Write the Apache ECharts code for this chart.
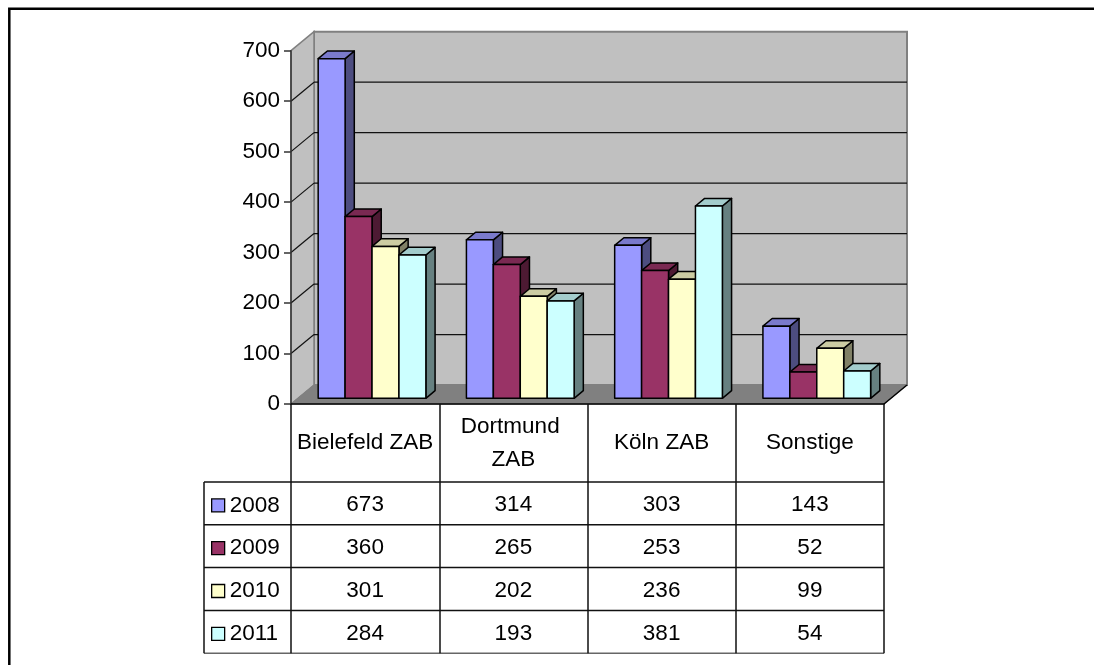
<!DOCTYPE html>
<html>
<head>
<meta charset="utf-8">
<title>ZAB 2008–2011</title>
<script src="https://cdn.jsdelivr.net/npm/echarts@6/dist/echarts.min.js"></script>
<style>
  html, body { margin: 0; padding: 0; background: #ffffff; }
  #chart { width: 1094px; height: 665px; }
</style>
</head>
<body>
<div id="chart"></div>
<script>
// ---- data ----
const CATEGORIES = ['Bielefeld ZAB', 'Dortmund ZAB', 'Köln ZAB', 'Sonstige'];
const YEARS = ['2008', '2009', '2010', '2011'];
const V2008 = [673, 314, 303, 143];
const V2009 = [360, 265, 253, 52];
const V2010 = [301, 202, 236, 99];
const V2011 = [284, 193, 381, 54];
const Y_MIN = 0;
const Y_MAX = 700;
const Y_STEP = 100;

const SERIES_VALUES = [V2008, V2009, V2010, V2011];

// ---- look ----
const FONT = '"Liberation Sans", Arial, Helvetica, sans-serif';
const FONT_SIZE = 22.5;
const FRONT_COLORS = ['#9999FF', '#993366', '#FFFFCC', '#CCFFFF'];

// oblique depth of the plot box (pixels from front plane to back wall)
const DX = 23;
const DY = -19;
// the bars occupy this slice of the depth
const BAR_FRONT = 0.3;
const BAR_BACK = 0.7;
// share of a category band covered by its group of bars
const GROUP_FRAC = 0.7265;

// data table below the plot
const ROW_TOP = 482;
const ROW_H = 42.8;
const KEY_COL_W = 87;

function shade(hex, f) {
  const n = parseInt(hex.slice(1), 16);
  const r = Math.round(((n >> 16) & 255) * f);
  const g = Math.round(((n >> 8) & 255) * f);
  const b = Math.round((n & 255) * f);
  return 'rgb(' + r + ',' + g + ',' + b + ')';
}

// back wall, side wall, floor and wall gridlines
function renderWalls(params, api) {
  const cs = params.coordSys;
  const x = cs.x, y = cs.y, w = cs.width, h = cs.height;
  const children = [];
  children.push({
    type: 'rect',
    shape: { x: x + DX, y: y + DY, width: w, height: h },
    style: { fill: '#C0C0C0', stroke: '#808080', lineWidth: 2 }
  });
  children.push({
    type: 'polygon',
    shape: { points: [[x, y], [x + DX, y + DY], [x + DX, y + h + DY], [x, y + h]] },
    style: { fill: '#C0C0C0', stroke: '#808080', lineWidth: 1.5 }
  });
  children.push({
    type: 'polygon',
    shape: { points: [[x, y + h], [x + DX, y + h + DY], [x + w + DX, y + h + DY], [x + w, y + h]] },
    style: { fill: '#808080', stroke: '#808080', lineWidth: 1 }
  });
  children.push({
    type: 'line',
    shape: { x1: x + w, y1: y + h, x2: x + w + DX, y2: y + h + DY },
    style: { stroke: '#000', lineWidth: 1.5 }
  });
  for (let v = Y_MIN + Y_STEP; v < Y_MAX; v += Y_STEP) {
    const yy = api.coord([0, v])[1];
    children.push({
      type: 'line',
      shape: { x1: x + DX, y1: yy + DY, x2: x + w + DX, y2: yy + DY },
      style: { stroke: '#111', lineWidth: 1.2 }
    });
    children.push({
      type: 'line',
      shape: { x1: x, y1: yy, x2: x + DX, y2: yy + DY },
      style: { stroke: '#111', lineWidth: 1.2 }
    });
  }
  return { type: 'group', children: children };
}

// one 3D column: side, top, then front face
function barRenderer(si) {
  const front = FRONT_COLORS[si];
  const topC = shade(front, 0.8);
  const sideC = shade(front, 0.5);
  return function (params, api) {
    const j = api.value(0);
    const v = api.value(1);
    const pTop = api.coord([j, v]);
    const pBase = api.coord([j, 0]);
    const band = api.size([1, 0])[0];
    const groupW = band * GROUP_FRAC;
    const bw = groupW / YEARS.length;
    const x0 = pTop[0] - groupW / 2 + si * bw + DX * BAR_FRONT;
    const yt = pTop[1] + DY * BAR_FRONT;
    const yb = pBase[1] + DY * BAR_FRONT;
    const dx = DX * (BAR_BACK - BAR_FRONT);
    const dy = DY * (BAR_BACK - BAR_FRONT);
    const st = { stroke: '#000', lineWidth: 1.5, lineJoin: 'round' };
    return {
      type: 'group',
      children: [
        {
          type: 'polygon',
          shape: { points: [[x0 + bw, yt], [x0 + bw + dx, yt + dy], [x0 + bw + dx, yb + dy], [x0 + bw, yb]] },
          style: Object.assign({ fill: sideC }, st)
        },
        {
          type: 'polygon',
          shape: { points: [[x0, yt], [x0 + bw, yt], [x0 + bw + dx, yt + dy], [x0 + dx, yt + dy]] },
          style: Object.assign({ fill: topC }, st)
        },
        {
          type: 'rect',
          shape: { x: x0, y: yt, width: bw, height: yb - yt },
          style: Object.assign({ fill: front }, st)
        }
      ]
    };
  };
}

// horizontal rules of the data table and its key column edge
function renderTableRules(params, api) {
  const cs = params.coordSys;
  const left = cs.x - KEY_COL_W;
  const right = cs.x + cs.width;
  const children = [];
  for (let k = 0; k <= YEARS.length; k++) {
    const yy = ROW_TOP + k * ROW_H;
    children.push({
      type: 'line',
      shape: { x1: left, y1: yy, x2: right, y2: yy },
      style: { stroke: k === YEARS.length ? '#666' : '#111', lineWidth: 1.5 }
    });
  }
  children.push({
    type: 'line',
    shape: { x1: left, y1: ROW_TOP, x2: left, y2: ROW_TOP + YEARS.length * ROW_H },
    style: { stroke: '#111', lineWidth: 1.5 }
  });
  return { type: 'group', children: children };
}

// value cells of the data table
function renderTableCell(params, api) {
  const j = api.value(0);
  const row = api.value(1);
  const val = api.value(2);
  const x = api.coord([j, 0])[0];
  const y = ROW_TOP + (row + 0.5) * ROW_H + 1.5;
  return {
    type: 'text',
    x: x,
    y: y,
    style: {
      text: String(val),
      fill: '#000',
      fontSize: FONT_SIZE,
      fontFamily: FONT,
      align: 'center',
      verticalAlign: 'middle'
    }
  };
}

const tableCells = [];
SERIES_VALUES.forEach(function (vals, i) {
  vals.forEach(function (v, j) { tableCells.push([j, i, v]); });
});

const series = [
  {
    type: 'custom',
    name: 'walls',
    renderItem: renderWalls,
    data: [[0, 0]],
    encode: { x: 0, y: 1 },
    z: 1,
    silent: true
  },
  {
    type: 'custom',
    name: 'tableRules',
    renderItem: renderTableRules,
    data: [[0, 0]],
    encode: { x: 0, y: 1 },
    z: 1,
    silent: true
  },
  {
    type: 'custom',
    name: 'tableCells',
    renderItem: renderTableCell,
    data: tableCells,
    encode: { x: 0, y: 1 },
    z: 3,
    silent: true
  }
];

YEARS.forEach(function (year, i) {
  series.push({
    type: 'custom',
    name: year,
    renderItem: barRenderer(i),
    itemStyle: { color: FRONT_COLORS[i] },
    data: SERIES_VALUES[i].map(function (v, j) { return [j, v]; }),
    encode: { x: 0, y: 1 },
    z: 4 + i
  });
});

const chart = echarts.init(document.getElementById('chart'), null, { renderer: 'canvas' });

chart.setOption({
  animation: false,
  backgroundColor: '#ffffff',
  textStyle: { fontFamily: FONT },
  grid: { left: 291, top: 50.7, right: 210, bottom: 261, containLabel: false },
  xAxis: {
    type: 'category',
    data: CATEGORIES,
    boundaryGap: true,
    z: 10,
    axisLine: { show: true, lineStyle: { color: '#000', width: 1.5 } },
    axisTick: {
      show: true,
      interval: 0,
      length: ROW_TOP + YEARS.length * ROW_H - 404,
      lineStyle: { color: '#111', width: 1.5 }
    },
    axisLabel: {
      interval: 0,
      margin: 39,
      color: '#000',
      fontSize: FONT_SIZE,
      fontFamily: FONT,
      width: 140,
      overflow: 'break',
      lineHeight: 33,
      align: 'center',
      verticalAlign: 'middle'
    },
    splitLine: { show: false }
  },
  yAxis: {
    type: 'value',
    min: Y_MIN,
    max: Y_MAX,
    interval: Y_STEP,
    z: 10,
    axisLine: { show: true, lineStyle: { color: '#333', width: 1.5 } },
    axisTick: { show: true, length: 7, lineStyle: { color: '#333', width: 1.5 } },
    axisLabel: { margin: 11, color: '#000', fontSize: FONT_SIZE, fontFamily: FONT },
    splitLine: { show: false }
  },
  legend: {
    orient: 'vertical',
    left: 211,
    top: ROW_TOP + 2,
    padding: 0,
    itemGap: 0,
    itemWidth: 13,
    itemHeight: 13,
    selectedMode: false,
    textStyle: { fontSize: FONT_SIZE, fontFamily: FONT, color: '#000', lineHeight: ROW_H },
    data: YEARS.map(function (y, i) {
      return {
        name: y,
        icon: 'rect',
        itemStyle: { color: FRONT_COLORS[i], borderColor: '#000', borderWidth: 1.3 }
      };
    })
  },
  graphic: [
    {
      type: 'polyline',
      shape: { points: [[9.3, 700], [9.3, 8.7], [1100, 8.7]] },
      style: { stroke: '#000', lineWidth: 2.5, fill: null }
    }
  ],
  series: series
});
</script>
</body>
</html>
